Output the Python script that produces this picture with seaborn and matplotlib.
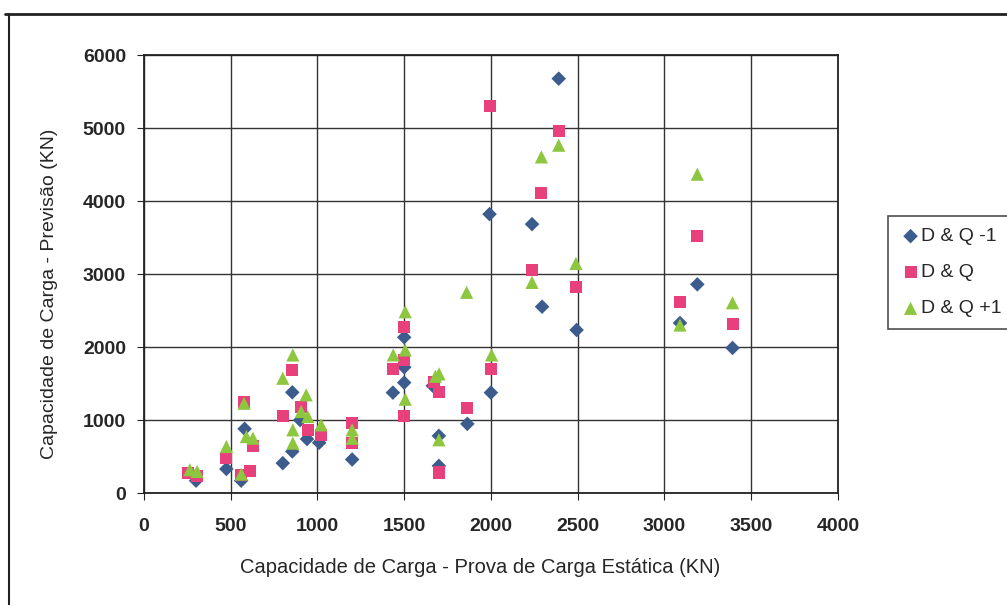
import matplotlib
matplotlib.use("Agg")
import matplotlib.pyplot as plt
import seaborn as sns
import pandas as pd
from matplotlib.lines import Line2D

# ---- data ----
dq_m1_x = [300, 475, 560, 580, 800, 855, 855, 900, 940, 1010, 1200, 1435, 1500, 1500, 1500,
           1665, 1700, 1700, 1864, 2000, 1992, 2237, 2295, 2391, 2494, 3190, 3090, 3393]
dq_m1_y = [170, 330, 170, 880, 410, 1380, 570, 1000, 740, 690, 460, 1376, 2134, 1724, 1513,
           1470, 784, 373, 948, 1376, 3821, 3684, 2553, 5677, 2234, 2859, 2330, 1988]

dq_x = [255, 306, 475, 560, 609, 577, 628, 800, 855, 906, 944, 1021, 1200, 1200, 1437, 1500, 1500,
        1500, 1672, 1700, 1700, 1864, 2000, 1992, 2237, 2291, 2391, 2490, 3190, 3090, 3393]
dq_y = [274, 230, 480, 250, 300, 1253, 650, 1062, 1690, 1185, 866, 798, 960, 684, 1696, 2271, 1824,
        1062, 1527, 1390, 282, 1171, 1696, 5303, 3055, 4104, 4960, 2826, 3524, 2613, 2316]

dq_p1_x = [264, 306, 475, 561, 577, 590, 628, 800, 858, 858, 858, 935, 906, 944, 1021, 1200, 1200,
           1437, 1506, 1506, 1506, 1701, 1680, 1700, 1860, 2004, 2237, 2291, 2391, 2490, 3190, 3090, 3393]
dq_p1_y = [319, 296, 638, 260, 1230, 774, 752, 1573, 1892, 866, 684, 1345, 1117, 1048, 934, 866, 750,
           1892, 2484, 1960, 1286, 1632, 1600, 730, 2750, 1892, 2886, 4605, 4765, 3146, 4368, 2302, 2607]

series_names = ["D & Q -1", "D & Q", "D & Q +1"]
x_ticks = [0, 500, 1000, 1500, 2000, 2500, 3000, 3500, 4000]
y_ticks = [0, 1000, 2000, 3000, 4000, 5000, 6000]

df = pd.concat([
    pd.DataFrame({"x": dq_m1_x, "y": dq_m1_y, "serie": series_names[0]}),
    pd.DataFrame({"x": dq_x, "y": dq_y, "serie": series_names[1]}),
    pd.DataFrame({"x": dq_p1_x, "y": dq_p1_y, "serie": series_names[2]}),
], ignore_index=True)

sns.set_style("white")
plt.rcParams["font.family"] = ["Liberation Sans", "DejaVu Sans"]

fig = plt.figure(figsize=(10.07, 6.05), dpi=100)
ax = fig.add_axes([0.143, 0.185, 0.689, 0.724])

colors = {"D & Q -1": "#3C5C8E", "D & Q": "#E8407D", "D & Q +1": "#8DC63F"}
markers = {"D & Q -1": "D", "D & Q": "s", "D & Q +1": "^"}
sizes = {"D & Q -1": 55, "D & Q": 75, "D & Q +1": 90}

for name in series_names:
    sub = df[df["serie"] == name]
    sns.scatterplot(data=sub, x="x", y="y", ax=ax, color=colors[name], marker=markers[name],
                    s=sizes[name], edgecolor="none", linewidth=0, label=name, zorder=3)

ax.set_xlim(0, 4000)
ax.set_ylim(0, 6000)
ax.set_xticks(x_ticks)
ax.set_yticks(y_ticks)
ax.grid(True, color="#333333", linewidth=1.0, zorder=0)
ax.set_axisbelow(True)
for sp in ax.spines.values():
    sp.set_color("#222222")
    sp.set_linewidth(1.3)
ax.tick_params(axis="both", which="major", labelsize=14, length=5, direction="out",
               color="#222222", bottom=True, left=True)
ax.tick_params(axis="x", pad=13)
ax.tick_params(axis="y", pad=8)
for lab in ax.get_xticklabels() + ax.get_yticklabels():
    lab.set_fontweight("bold")
ax.set_xlabel("Capacidade de Carga - Prova de Carga Estática (KN)", fontsize=14.5)
ax.set_ylabel("Capacidade de Carga - Previsão (KN)", fontsize=14)
ax.xaxis.set_label_coords(0.484, -0.148)
ax.yaxis.set_label_coords(-0.124, 0.455)

leg = ax.legend(loc="upper left", bbox_to_anchor=(0.882, 0.643), bbox_transform=fig.transFigure,
                frameon=True, fancybox=False, fontsize=14, handletextpad=0.0,
                handlelength=1.1, borderpad=0.6, labelspacing=0.95, markerscale=1.0,
                borderaxespad=0.0)
leg.get_frame().set_edgecolor("#222222")
leg.get_frame().set_linewidth(1.2)

# outer frame lines of the scanned figure
fig.add_artist(Line2D([0.005, 1.0], [0.977, 0.977], transform=fig.transFigure,
                      color="#222222", linewidth=2))
fig.add_artist(Line2D([0.009, 0.009], [0.0, 0.977], transform=fig.transFigure,
                      color="#222222", linewidth=1.5))

fig.savefig("out.png", dpi=100)
